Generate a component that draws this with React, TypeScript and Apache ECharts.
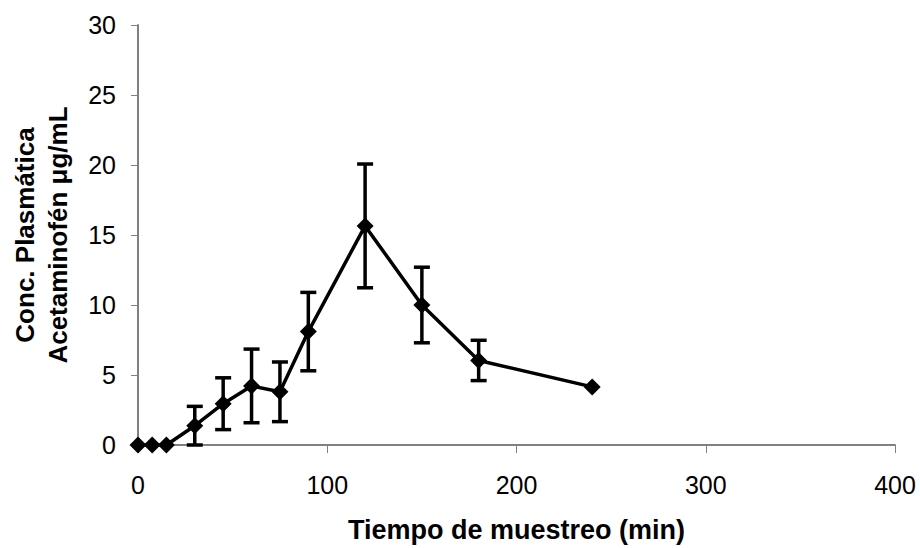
import React, { useEffect, useRef } from "react";
import * as echarts from "echarts";

const times = [0, 7.5, 15, 30, 45, 60, 75, 90, 120, 150, 180, 240];
const means = [0, 0, 0, 1.38, 2.95, 4.22, 3.8, 8.1, 15.65, 10.0, 6.04, 4.15];
const errors = [0, 0, 0, 1.38, 1.85, 2.63, 2.13, 2.8, 4.42, 2.7, 1.44, 0];

const xTitle = "Tiempo de muestreo (min)";
const yTitle = "Conc. Plasmática\nAcetaminofén μg/mL";

const FONT = "Arial, 'Liberation Sans', sans-serif";

export default function App() {
  const ref = useRef<HTMLDivElement>(null);
  useEffect(() => {
    if (!ref.current) return;
    const chart = echarts.init(ref.current, undefined, { renderer: "svg" });
    const lineData = times.map((t, i) => [t, means[i]]);
    const errData = times
      .map((t, i) => [t, means[i] - errors[i], means[i] + errors[i], errors[i]])
      .filter((d) => d[3] > 0);
    chart.setOption({
      animation: false,
      backgroundColor: "#ffffff",
      grid: { left: 137, right: 25, top: 25, bottom: 100 },
      xAxis: {
        type: "value",
        min: 0,
        max: 400,
        interval: 100,
        name: xTitle,
        nameLocation: "middle",
        nameGap: 71,
        nameTextStyle: { fontFamily: FONT, fontSize: 27, fontWeight: "bold", color: "#000" },
        axisLine: { lineStyle: { color: "#808080", width: 2 } },
        axisTick: { show: true, inside: false, length: 8, lineStyle: { color: "#808080", width: 1 } },
        axisLabel: { fontFamily: FONT, fontSize: 25, color: "#000", margin: 27 },
        splitLine: { show: false },
      },
      yAxis: {
        type: "value",
        min: 0,
        max: 30,
        interval: 5,
        name: yTitle,
        nameLocation: "middle",
        nameRotate: 90,
        nameGap: 64,
        nameTextStyle: {
          fontFamily: FONT,
          fontSize: 26,
          fontWeight: "bold",
          color: "#000",
          lineHeight: 33,
          align: "center",
        },
        axisLine: { show: true, lineStyle: { color: "#808080", width: 2 } },
        axisTick: { show: true, inside: false, length: 7, lineStyle: { color: "#808080", width: 1 } },
        axisLabel: { fontFamily: FONT, fontSize: 25, color: "#000", margin: 22 },
        splitLine: { show: false },
      },
      series: [
        {
          type: "custom",
          z: 3,
          data: errData,
          renderItem: (params: any, api: any) => {
            const x = api.value(0);
            const lo = api.coord([x, api.value(1)]);
            const hi = api.coord([x, api.value(2)]);
            const half = 8;
            const style = { stroke: "#000", lineWidth: 3.5 };
            return {
              type: "group",
              children: [
                { type: "line", shape: { x1: lo[0], y1: lo[1], x2: hi[0], y2: hi[1] }, style },
                { type: "line", shape: { x1: hi[0] - half, y1: hi[1], x2: hi[0] + half, y2: hi[1] }, style },
                { type: "line", shape: { x1: lo[0] - half, y1: lo[1], x2: lo[0] + half, y2: lo[1] }, style },
              ],
            };
          },
        },
        {
          type: "line",
          z: 4,
          data: lineData,
          symbol: "diamond",
          symbolSize: 17,
          lineStyle: { color: "#000", width: 3.5 },
          itemStyle: { color: "#000" },
        },
      ],
    });
    return () => chart.dispose();
  }, []);
  return (
    <div
      ref={ref}
      style={{ position: "absolute", left: 0, top: 0, width: 920, height: 548 }}
    />
  );
}
